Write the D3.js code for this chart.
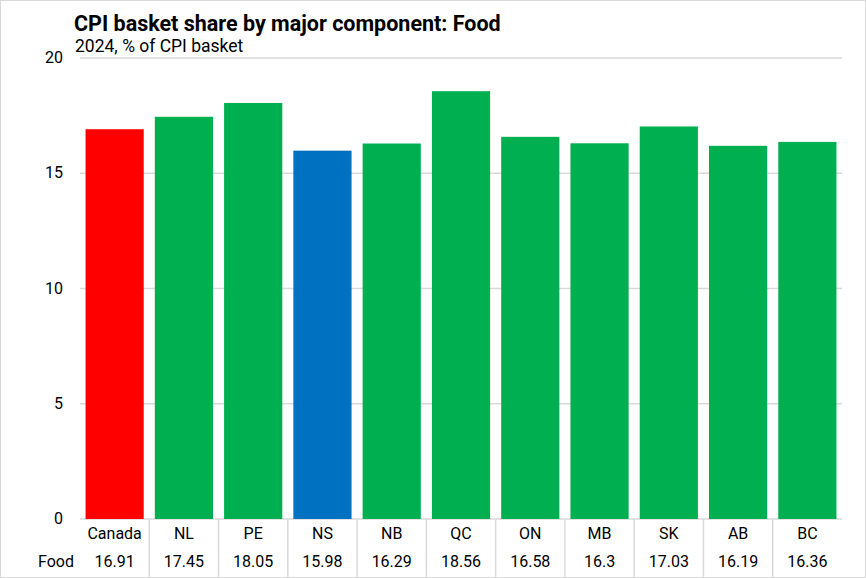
<!DOCTYPE html>
<html>
<head>
<meta charset="utf-8">
<script src="https://cdn.jsdelivr.net/npm/d3@7"></script>
<style>
  body { margin: 0; background: #fff; }
  text { font-family: Roboto, "Liberation Sans", sans-serif; fill: #000; }
</style>
</head>
<body>
<div id="chart"></div>
<script>
var categories = ["Canada", "NL", "PE", "NS", "NB", "QC", "ON", "MB", "SK", "AB", "BC"];
var food = [16.91, 17.45, 18.05, 15.98, 16.29, 18.56, 16.58, 16.3, 17.03, 16.19, 16.36];
var barColors = ["#ff0000", "#00b050", "#00b050", "#0070c0", "#00b050", "#00b050",
                 "#00b050", "#00b050", "#00b050", "#00b050", "#00b050"];
var yTicks = [0, 5, 10, 15, 20];

var width = 866, height = 578;
// plot area edges (note: "top" clashes with window.top, so use other names)
var plotLeft = 80, plotRight = 842, plotTop = 58, plotBottom = 519;

var svg = d3.select("#chart").append("svg")
  .attr("width", width)
  .attr("height", height);

// outer border like the exported chart
svg.append("rect")
  .attr("x", 0.5).attr("y", 0.5)
  .attr("width", width - 1).attr("height", height - 1)
  .attr("fill", "none")
  .attr("stroke", "#d9d9d9");

var x = d3.scaleBand().domain(categories).range([plotLeft, plotRight]).paddingInner(0.16).paddingOuter(0.08);
var xCol = d3.scaleBand().domain(categories).range([plotLeft, plotRight]);
var y = d3.scaleLinear().domain([0, 20]).range([plotBottom, plotTop]);

// gridlines
svg.selectAll(".grid")
  .data(yTicks)
  .enter().append("line")
  .attr("class", "grid")
  .attr("x1", plotLeft).attr("x2", plotRight)
  .attr("y1", function (d) { return y(d); })
  .attr("y2", function (d) { return y(d); })
  .attr("stroke", "#d9d9d9")
  .attr("stroke-width", 1.5);

// y tick labels
svg.selectAll(".ytick")
  .data(yTicks)
  .enter().append("text")
  .attr("x", 63)
  .attr("y", function (d) { return y(d) + 5; })
  .attr("text-anchor", "end")
  .style("font-size", "16px")
  .text(function (d) { return d; });

// bars
svg.selectAll(".bar")
  .data(food)
  .enter().append("rect")
  .attr("class", "bar")
  .attr("x", function (d, i) { return x(categories[i]); })
  .attr("width", x.bandwidth())
  .attr("y", function (d) { return y(d); })
  .attr("height", function (d) { return y(0) - y(d); })
  .attr("fill", function (d, i) { return barColors[i]; });

// data table: column separators
svg.selectAll(".sep")
  .data(categories.slice(1))
  .enter().append("line")
  .attr("x1", function (d) { return xCol(d); })
  .attr("x2", function (d) { return xCol(d); })
  .attr("y1", plotBottom)
  .attr("y2", height - 1)
  .attr("stroke", "#d9d9d9")
  .attr("stroke-width", 1.5);

svg.selectAll(".cat")
  .data(categories)
  .enter().append("text")
  .attr("x", function (d) { return xCol(d) + xCol.bandwidth() / 2; })
  .attr("y", 539)
  .attr("text-anchor", "middle")
  .style("font-size", "16px")
  .text(function (d) { return d; });

svg.selectAll(".val")
  .data(food)
  .enter().append("text")
  .attr("x", function (d, i) { return xCol(categories[i]) + xCol.bandwidth() / 2; })
  .attr("y", 567)
  .attr("text-anchor", "middle")
  .style("font-size", "16px")
  .text(function (d) { return d; });

svg.append("text")
  .attr("x", 74).attr("y", 567)
  .attr("text-anchor", "end")
  .style("font-size", "16px")
  .text("Food");

// titles
svg.append("text")
  .attr("x", 74).attr("y", 31)
  .style("font-size", "21.5px")
  .style("font-weight", "bold")
  .text("CPI basket share by major component: Food");

svg.append("text")
  .attr("x", 75).attr("y", 52)
  .style("font-size", "17.5px")
  .text("2024, % of CPI basket");
</script>
</body>
</html>
